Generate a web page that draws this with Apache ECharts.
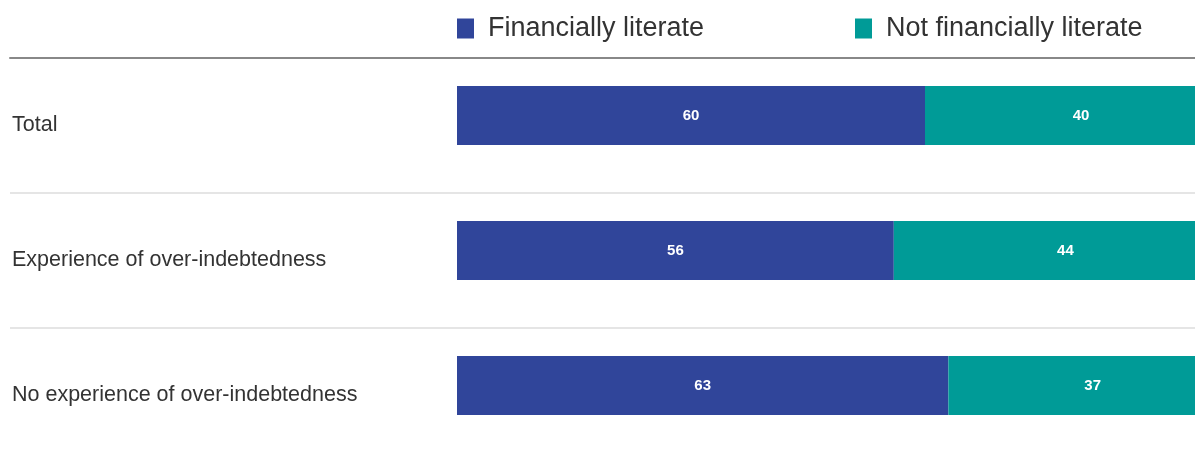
<!DOCTYPE html>
<html>
<head>
<meta charset="utf-8">
<script src="https://cdn.jsdelivr.net/npm/echarts@6/dist/echarts.min.js"></script>
<style>
  html, body { margin: 0; padding: 0; background: #fff; }
  #chart { width: 1195px; height: 456px; }
</style>
</head>
<body>
<div id="chart"></div>
<script>
// Share of respondents by financial literacy, per group (%)
const categories = ['Total', 'Experience of over-indebtedness', 'No experience of over-indebtedness'];
const literate = [60, 56, 63];
const notLiterate = [40, 44, 37];
const seriesNames = ['Financially literate', 'Not financially literate'];

const BLUE = '#30459a';
const TEAL = '#009b97';
const FONT = '"Liberation Sans", Arial, sans-serif';

const chart = echarts.init(document.getElementById('chart'), null, { renderer: 'canvas' });

const valueLabel = {
  show: true,
  position: 'inside',
  color: '#fff',
  fontFamily: FONT,
  fontWeight: 'bold',
  fontSize: 15
};

const legendBase = {
  top: 15, padding: 0,
  icon: 'rect', itemWidth: 17, itemHeight: 20,
  textStyle: { fontFamily: FONT, fontSize: 27, color: '#333', padding: [0, 0, 0, 9] }
};

chart.setOption({
  animation: false,
  backgroundColor: '#fff',
  legend: [
    Object.assign({ data: [seriesNames[0]], left: 457 }, legendBase),
    Object.assign({ data: [seriesNames[1]], left: 855 }, legendBase)
  ],
  grid: [
    // row labels and separators
    { left: 10, right: 0, top: 58, height: 404, outerBoundsMode: 'none' },
    // stacked bars (scale runs past the right edge of the view)
    { left: 457, width: 780, top: 48, height: 405, outerBoundsMode: 'none' }
  ],
  xAxis: [
    {
      gridIndex: 0, type: 'value', position: 'top', min: 0, max: 100,
      axisLine: { show: true, onZero: false, lineStyle: { color: '#888', width: 2 } },
      axisTick: { show: false }, axisLabel: { show: false }, splitLine: { show: false }
    },
    {
      gridIndex: 1, type: 'value', min: 0, max: 100,
      axisLine: { show: false }, axisTick: { show: false },
      axisLabel: { show: false }, splitLine: { show: false }
    }
  ],
  yAxis: [
    {
      gridIndex: 0, type: 'category', data: categories, inverse: true,
      axisLine: { show: false }, axisTick: { show: false },
      axisLabel: {
        inside: true, align: 'left', margin: 2, padding: [7, 0, 0, 0],
        fontFamily: FONT, fontSize: 21.5, color: '#333'
      },
      splitLine: { show: true, lineStyle: { color: '#dcdcdc', width: 1.5 } }
    },
    {
      gridIndex: 1, type: 'category', data: categories, inverse: true,
      axisLine: { show: false }, axisTick: { show: false },
      axisLabel: { show: false }, splitLine: { show: false }
    }
  ],
  series: [
    {
      name: seriesNames[0], type: 'bar', stack: 'share',
      xAxisIndex: 1, yAxisIndex: 1,
      data: literate, barWidth: 59,
      itemStyle: { color: BLUE },
      label: valueLabel
    },
    {
      name: seriesNames[1], type: 'bar', stack: 'share',
      xAxisIndex: 1, yAxisIndex: 1,
      data: notLiterate, barWidth: 59,
      itemStyle: { color: TEAL },
      label: valueLabel
    }
  ]
});
</script>
</body>
</html>
